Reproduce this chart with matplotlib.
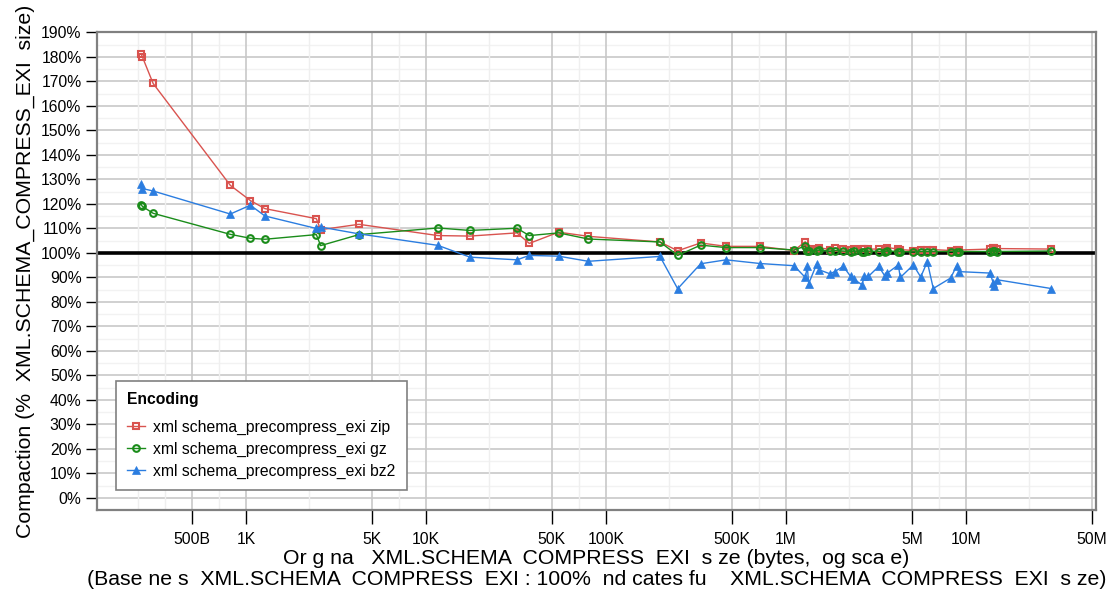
import numpy as np
import matplotlib.pyplot as plt

plt.rcParams['font.family'] = ['Liberation Sans', 'DejaVu Sans']

# original size in bytes (same documents for every encoding)
sizes = [262, 266, 305, 819, 1058, 1275, 2461, 2600, 4244, 11660,
         17550, 32030, 37490, 54600, 79730, 199500, 250200, 335800, 464200, 717200,
         1108000, 1280000, 1313000, 1337000, 1481000, 1519000, 1755000, 1865000,
         2081000, 2288000, 2395000, 2644000, 2723000, 2866000, 3273000, 3535000,
         3654000, 4206000, 4315000, 5095000, 5602000, 6095000, 6580000, 8222000,
         8879000, 9108000, 13600000, 14180000, 14360000, 14810000, 29660000]

zip_pct = [181.2, 180.0, 169.2, 127.6, 121.4, 118.1, 114.0, 109.5, 111.7, 107.1,
           106.9, 108.2, 103.9, 108.5, 106.8, 104.5, 100.9, 104.1, 102.7, 102.7,
           101.0, 104.6, 101.5, 101.8, 101.5, 102.2, 101.4, 102.0, 101.6, 101.2,
           101.8, 101.5, 101.5, 101.6, 101.6, 101.4, 102.2, 101.6, 101.4, 101.0,
           101.4, 101.4, 101.4, 101.0, 101.2, 101.2, 101.6, 101.9, 102.0, 101.8, 101.6]

gz_pct = [119.7, 119.0, 116.2, 107.6, 106.0, 105.6, 107.5, 103.0, 107.5, 110.2,
          109.2, 110.1, 107.1, 108.2, 105.7, 104.5, 99.0, 103.2, 102.2, 102.2,
          101.2, 102.8, 100.8, 101.0, 100.8, 101.2, 100.8, 101.0, 100.8, 100.6,
          100.8, 100.6, 100.6, 100.8, 100.6, 100.6, 100.8, 100.6, 100.6, 100.4,
          100.6, 100.6, 100.6, 100.6, 100.6, 100.6, 100.6, 100.8, 100.8, 100.6, 100.8]

bz2_pct = [128.3, 126.3, 125.3, 115.9, 119.5, 115.1, 110.0, 110.6, 107.8, 103.1,
           98.3, 97.2, 99.0, 98.7, 96.6, 98.6, 85.4, 95.6, 97.2, 95.7,
           94.8, 90.0, 94.5, 87.5, 95.5, 93.2, 91.5, 92.4, 94.5, 90.4,
           89.2, 87.0, 90.4, 90.4, 94.5, 90.7, 91.8, 95.1, 90.0, 95.1,
           90.2, 96.4, 85.5, 89.8, 94.8, 92.4, 91.8, 87.7, 86.4, 89.1, 85.5]

x_ticks = [500, 1e3, 5e3, 1e4, 5e4, 1e5, 5e5, 1e6, 5e6, 1e7, 5e7]
x_labels = ['500B', '1K', '5K', '10K', '50K', '100K', '500K', '1M', '5M', '10M', '50M']
x_minor = [250, 354, 707, 2236, 7071, 22361, 70711, 223607, 707107,
           2236068, 7071068, 22360680]

fig = plt.figure(figsize=(11.19, 5.98), dpi=100)
ax = fig.add_axes([0.0864, 0.1472, 0.893, 0.7993])

# grid
for y in np.arange(5, 190, 10):
    ax.axhline(y, color='#f2f2f2', lw=1.0, zorder=0)
for y in np.arange(0, 191, 10):
    ax.axhline(y, color='#c8c8c8', lw=1.2, zorder=0)
for x in x_minor:
    ax.axvline(x, color='#efefef', lw=1.0, zorder=0)
for x in x_ticks:
    ax.axvline(x, color='#c8c8c8', lw=1.2, zorder=0)

ax.axhline(100, color='black', lw=2.6, zorder=2)

ax.plot(sizes, zip_pct, '-', color='#d9534f', lw=1.0, marker='s', ms=4.8,
        mfc='none', mew=1.5, label='xml schema_precompress_exi zip', zorder=3)
ax.plot(sizes, gz_pct, '-', color='#1a8c1a', lw=1.0, marker='o', ms=4.8,
        mfc='none', mew=1.5, label='xml schema_precompress_exi gz', zorder=3)
ax.plot(sizes, bz2_pct, '-', color='#2b7de0', lw=1.0, marker='^', ms=6,
        mew=0.5, label='xml schema_precompress_exi bz2', zorder=3)

ax.set_xscale('log')
ax.set_xlim(148.2, 52.7e6)
ax.set_ylim(-4.9, 190.2)

ax.set_xticks(x_ticks)
ax.set_xticklabels(x_labels)
ax.xaxis.set_minor_locator(plt.NullLocator())
ax.set_yticks(np.arange(0, 191, 10))
ax.set_yticklabels([f'{v}%' for v in range(0, 191, 10)])
ax.tick_params(axis='both', labelsize=11.3, direction='out', color='black', width=1.0)
ax.tick_params(axis='y', length=8, pad=3)
ax.tick_params(axis='x', length=10, pad=6)

for s in ax.spines.values():
    s.set_color('#808080')
    s.set_linewidth(1.6)

ax.set_ylabel('Compaction (%  XML.SCHEMA_COMPRESS_EXI  size)', fontsize=15.3, labelpad=4)
ax.set_xlabel('Or g na   XML.SCHEMA  COMPRESS  EXI  s ze (bytes,  og sca e)\n'
              '(Base ne s  XML.SCHEMA  COMPRESS  EXI : 100%  nd cates fu    XML.SCHEMA  COMPRESS  EXI  s ze)',
              fontsize=15.3, linespacing=1.15, labelpad=1)

leg = ax.legend(loc='lower left', bbox_to_anchor=(0.019, 0.042), borderaxespad=0,
                title='Encoding', fontsize=11.3, fancybox=False, edgecolor='#808080',
                framealpha=1, handlelength=1.2, borderpad=0.7, labelspacing=0.45,
                handletextpad=0.5, alignment='left')
leg.get_title().set_fontweight('bold')
leg.get_title().set_fontsize(11.3)
leg._legend_box.sep = 9
leg.get_frame().set_linewidth(1.2)

plt.savefig('out.png', dpi=100)
